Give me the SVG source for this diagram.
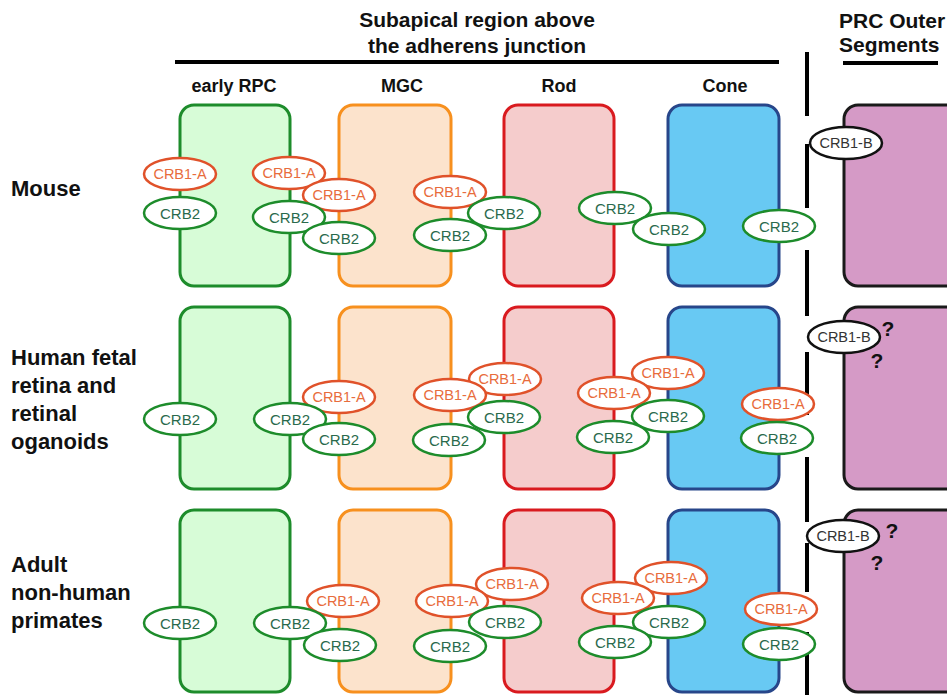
<svg xmlns="http://www.w3.org/2000/svg" width="947" height="695" viewBox="0 0 947 695">
<style>
.bg{fill:#ffffff}
.hd{font-family:"Liberation Sans",Arial,sans-serif;font-weight:bold;font-size:21px;fill:#111}
.col{font-family:"Liberation Sans",Arial,sans-serif;font-weight:bold;font-size:18px;fill:#111;text-anchor:middle}
.row{font-family:"Liberation Sans",Arial,sans-serif;font-weight:bold;font-size:22px;fill:#111}
.q{font-family:"Liberation Sans",Arial,sans-serif;font-weight:bold;font-size:21px;fill:#111;text-anchor:middle}
.rule{stroke:#000;stroke-width:4;fill:none}
.g{fill:#d7fcd7;stroke:#1d8c2b;stroke-width:3}
.o{fill:#fce3cc;stroke:#f7901e;stroke-width:3}
.r{fill:#f5cccc;stroke:#d91a1f;stroke-width:3}
.b{fill:#68c9f3;stroke:#27468a;stroke-width:3}
.p{fill:#d59ac6;stroke:#1a1a1a;stroke-width:3}
.ea{fill:#fff;stroke:#e0522a;stroke-width:2.5}
.e2{fill:#fff;stroke:#1d8c2b;stroke-width:2.5}
.eb{fill:#fff;stroke:#111;stroke-width:2.5}
.ta{font-family:"Liberation Sans",Arial,sans-serif;font-size:14.5px;fill:#e86c3c;text-anchor:middle}
.t2{font-family:"Liberation Sans",Arial,sans-serif;font-size:15px;fill:#2a6a4c;text-anchor:middle}
.tb{font-family:"Liberation Sans",Arial,sans-serif;font-size:14.5px;fill:#333;text-anchor:middle}
</style>
<defs>
<g id="A"><ellipse class="ea" cx="0" cy="0" rx="36" ry="16"/><text class="ta" x="0" y="5">CRB1-A</text></g>
<g id="C"><ellipse class="e2" cx="0" cy="0" rx="36" ry="16"/><text class="t2" x="0" y="5.5">CRB2</text></g>
<g id="B"><ellipse class="eb" cx="0" cy="0" rx="36" ry="16"/><text class="tb" x="0" y="5">CRB1-B</text></g>
</defs>
<rect class="bg" x="0" y="0" width="947" height="695"/>

<g id="headers">
<text class="hd" x="477" y="27" text-anchor="middle">Subapical region above</text>
<text class="hd" x="477" y="53" text-anchor="middle">the adherens junction</text>
<text class="hd" x="839" y="28">PRC Outer</text>
<text class="hd" x="839" y="52">Segments</text>
<text class="col" x="234" y="92">early RPC</text>
<text class="col" x="402" y="92">MGC</text>
<text class="col" x="559" y="92">Rod</text>
<text class="col" x="725" y="92">Cone</text>
<text class="row" x="11" y="196">Mouse</text>
<text class="row" x="11" y="365">Human fetal</text>
<text class="row" x="11" y="393">retina and</text>
<text class="row" x="11" y="421">retinal</text>
<text class="row" x="11" y="449">oganoids</text>
<text class="row" x="11" y="572">Adult</text>
<text class="row" x="11" y="600">non-human</text>
<text class="row" x="11" y="628">primates</text>
</g>

<g id="connectors">
<line class="rule" x1="175" y1="62" x2="779" y2="62"/>
<line class="rule" x1="843" y1="63" x2="938" y2="63"/>
<line class="rule" x1="807" y1="52" x2="807" y2="116"/>
<line class="rule" x1="807" y1="144" x2="807" y2="208"/>
<line class="rule" x1="807" y1="250" x2="807" y2="316"/>
<line class="rule" x1="807" y1="352" x2="807" y2="415"/>
<line class="rule" x1="807" y1="457" x2="807" y2="522"/>
<line class="rule" x1="807" y1="543" x2="807" y2="592"/>
<line class="rule" x1="807" y1="632" x2="807" y2="695"/>
</g>

<g id="cells">
<g id="mouse-rpc"><rect class="g" x="180" y="105" width="110" height="181" rx="14"/></g>
<g id="mouse-mgc"><rect class="o" x="339" y="105" width="112" height="181" rx="14"/></g>
<g id="mouse-rod"><rect class="r" x="504" y="105" width="110" height="181" rx="14"/></g>
<g id="mouse-cone"><rect class="b" x="668" y="105" width="111" height="181" rx="14"/></g>
<g id="mouse-prc"><rect class="p" x="844" y="105" width="130" height="181" rx="14"/></g>
<g id="human-rpc"><rect class="g" x="180" y="307" width="110" height="182" rx="14"/></g>
<g id="human-mgc"><rect class="o" x="339" y="307" width="112" height="182" rx="14"/></g>
<g id="human-rod"><rect class="r" x="504" y="307" width="110" height="182" rx="14"/></g>
<g id="human-cone"><rect class="b" x="668" y="307" width="111" height="182" rx="14"/></g>
<g id="human-prc"><rect class="p" x="844" y="307" width="130" height="182" rx="14"/></g>
<g id="adult-rpc"><rect class="g" x="180" y="510" width="110" height="182" rx="14"/></g>
<g id="adult-mgc"><rect class="o" x="339" y="510" width="112" height="182" rx="14"/></g>
<g id="adult-rod"><rect class="r" x="504" y="510" width="110" height="182" rx="14"/></g>
<g id="adult-cone"><rect class="b" x="668" y="510" width="111" height="182" rx="14"/></g>
<g id="adult-prc"><rect class="p" x="844" y="510" width="130" height="182" rx="14"/></g>
</g>

<g id="proteins-mouse">
<use id="m1" href="#B" x="846" y="143"/>
<use id="m2" href="#A" x="289" y="173"/>
<use id="m3" href="#A" x="180" y="174"/>
<use id="m4" href="#A" x="450" y="192"/>
<use id="m5" href="#A" x="339" y="195"/>
<use id="m6" href="#C" x="615" y="208"/>
<use id="m7" href="#C" x="180" y="213"/>
<use id="m8" href="#C" x="504" y="213"/>
<use id="m9" href="#C" x="289" y="217"/>
<use id="m10" href="#C" x="779" y="226"/>
<use id="m11" href="#C" x="669" y="229"/>
<use id="m12" href="#C" x="450" y="235"/>
<use id="m13" href="#C" x="339" y="238"/>
</g>

<g id="proteins-human">
<use id="h1" href="#B" x="844" y="337"/>
<use id="h2" href="#A" x="668" y="373"/>
<use id="h3" href="#A" x="505" y="379"/>
<use id="h4" href="#A" x="614" y="393"/>
<use id="h5" href="#A" x="450" y="395"/>
<use id="h6" href="#A" x="339" y="397"/>
<use id="h7" href="#A" x="778" y="404"/>
<use id="h8" href="#C" x="668" y="416"/>
<use id="h9" href="#C" x="504" y="417"/>
<use id="h10" href="#C" x="180" y="419"/>
<use id="h11" href="#C" x="290" y="419"/>
<use id="h12" href="#C" x="613" y="437"/>
<use id="h13" href="#C" x="777" y="438"/>
<use id="h14" href="#C" x="339" y="439"/>
<use id="h15" href="#C" x="449" y="440"/>
</g>

<g id="proteins-adult">
<use id="a1" href="#B" x="843" y="536"/>
<use id="a2" href="#A" x="671" y="578"/>
<use id="a3" href="#A" x="512" y="584"/>
<use id="a4" href="#A" x="618" y="598"/>
<use id="a5" href="#A" x="343" y="601"/>
<use id="a6" href="#A" x="452" y="601"/>
<use id="a7" href="#A" x="781" y="609"/>
<use id="a8" href="#C" x="505" y="622"/>
<use id="a9" href="#C" x="669" y="622"/>
<use id="a10" href="#C" x="180" y="623"/>
<use id="a11" href="#C" x="290" y="623"/>
<use id="a12" href="#C" x="615" y="642"/>
<use id="a13" href="#C" x="779" y="644"/>
<use id="a14" href="#C" x="340" y="645"/>
<use id="a15" href="#C" x="450" y="646"/>
</g>

<g id="questions">
<text class="q" x="888" y="336">?</text>
<text class="q" x="877" y="368">?</text>
<text class="q" x="892" y="538">?</text>
<text class="q" x="877" y="570">?</text>
</g>
</svg>
